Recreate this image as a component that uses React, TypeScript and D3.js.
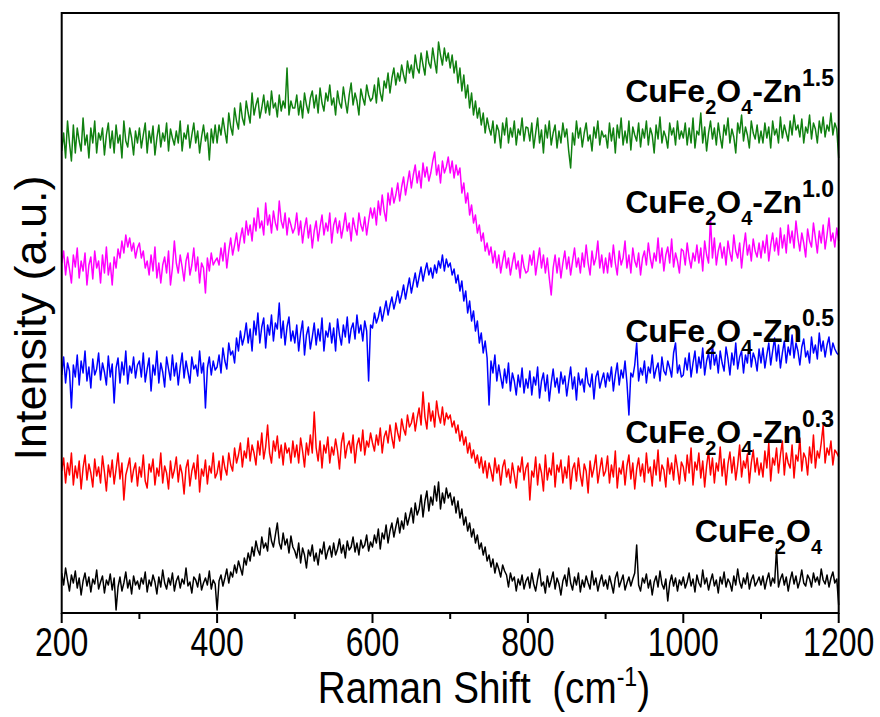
import React from 'react';
import * as d3 from 'd3';

// Each series: ten rows of 40 readings (one every 2.5 cm-1, a row spans 100 cm-1), then the 1200 cm-1 reading
const ROW_START = 200;
const ROW_SPAN = 100;
const POINT_STEP = 2.5;
const xTicks = [200, 400, 600, 800, 1000, 1200];
const xMinorTicks = [300, 500, 700, 900, 1100];

const cuFe2O4 = [
  [40, 28, 45, 33, 22, 38, 30, 42, 25, 35, 18, 32, 40, 27, 36, 21, 34, 29, 43, 24,
   31, 37, 20, 33, 28, 39, 23, 35, 3, 26, 36, 22, 30, 41, 25, 33, 19, 37, 28, 32],
  [24, 35, 29, 41, 21, 33, 27, 38, 31, 19, 36, 26, 43, 30, 24, 35, 28, 40, 22, 32,
   37, 25, 34, 29, 45, 27, 31, 20, 36, 33, 26, 39, 23, 30, 35, 28, 42, 24, 33, 29],
  [3, 32, 38, 27, 35, 44, 30, 41, 36, 48, 40, 52, 45, 38, 55, 48, 60, 52, 66, 57,
   72, 63, 58, 76, 65, 70, 62, 85, 72, 66, 78, 90, 70, 64, 80, 68, 74, 60, 77, 66],
  [62, 55, 70, 50, 65, 58, 45, 63, 57, 68, 52, 60, 48, 64, 59, 71, 54, 62, 67, 56,
   70, 58, 64, 74, 60, 68, 55, 72, 63, 66, 76, 61, 70, 58, 73, 65, 68, 78, 62, 71],
  [66, 78, 70, 84, 64, 80, 74, 88, 70, 82, 90, 76, 86, 95, 80, 92, 84, 100, 88, 96,
   105, 90, 110, 98, 104, 118, 96, 112, 122, 102, 116, 108, 127, 112, 131, 104, 120, 110, 125, 115],
  [120, 108, 116, 100, 112, 95, 104, 88, 96, 82, 90, 76, 84, 70, 78, 64, 70, 58, 66, 52,
   58, 46, 54, 40, 50, 44, 36, 48, 42, 38, 26, 40, 32, 36, 22, 34, 28, 38, 24, 32],
  [36, 25, 40, 29, 22, 34, 44, 27, 31, 20, 37, 26, 33, 41, 24, 35, 29, 18, 32, 38,
   27, 45, 30, 23, 36, 28, 40, 21, 33, 26, 37, 30, 24, 42, 28, 35, 22, 31, 38, 27],
  [33, 24, 37, 29, 20, 35, 41, 26, 32, 38, 23, 30, 36, 27, 34, 40, 68, 28, 22, 35,
   30, 39, 25, 33, 18, 31, 37, 26, 42, 29, 24, 34, 12, 30, 38, 27, 35, 22, 33, 28],
  [36, 25, 31, 40, 27, 34, 21, 38, 30, 26, 43, 29, 35, 23, 32, 39, 27, 33, 20, 36,
   29, 41, 26, 34, 30, 22, 37, 28, 44, 31, 25, 35, 29, 40, 24, 33, 38, 27, 31, 36],
  [28, 37, 24, 33, 40, 27, 35, 30, 64, 26, 34, 39, 28, 36, 22, 33, 41, 29, 37, 25,
   32, 43, 30, 27, 38, 34, 26, 40, 31, 36, 28, 44, 33, 29, 38, 26, 35, 41, 30, 34],
  [8],
];

const cuFe2O4Zn03 = [
  [142, 155, 130, 150, 138, 160, 128, 147, 135, 152, 124, 145, 158, 133, 149, 140, 126, 154, 137, 146,
   130, 157, 141, 122, 148, 136, 153, 129, 144, 160, 134, 150, 113, 138, 146, 155, 131, 143, 150, 127],
  [146, 136, 158, 132, 125, 149, 141, 154, 128, 145, 137, 160, 130, 147, 140, 124, 152, 135, 143, 156,
   131, 148, 139, 119, 145, 153, 127, 142, 150, 134, 158, 121, 144, 137, 153, 129, 147, 140, 160, 135],
  [140, 152, 133, 157, 145, 138, 160, 148, 142, 165, 150, 158, 170, 146, 162, 155, 175, 152, 168, 160,
   148, 172, 158, 180, 154, 166, 188, 160, 150, 172, 162, 177, 155, 168, 148, 170, 160, 165, 150, 172],
  [156, 168, 150, 175, 162, 146, 170, 158, 178, 160, 201, 165, 152, 172, 145, 168, 160, 176, 150, 166,
   158, 174, 162, 144, 170, 180, 155, 167, 172, 160, 178, 150, 168, 175, 162, 183, 158, 172, 166, 180],
  [170, 162, 178, 168, 185, 160, 176, 182, 170, 188, 175, 165, 190, 180, 172, 194, 184, 178, 198, 186,
   190, 200, 182, 195, 205, 188, 221, 196, 184, 210, 192, 202, 186, 212, 198, 190, 206, 188, 200, 194],
  [198, 186, 192, 180, 188, 172, 182, 168, 176, 160, 170, 155, 163, 150, 158, 145, 156, 140, 152, 135,
   150, 142, 132, 155, 140, 148, 128, 146, 153, 136, 144, 130, 150, 138, 125, 147, 141, 156, 133, 145],
  [150, 113, 142, 136, 156, 128, 149, 140, 122, 158, 133, 145, 138, 160, 126, 148, 141, 153, 130, 146,
   135, 157, 124, 144, 150, 132, 155, 138, 127, 149, 142, 120, 152, 136, 145, 158, 130, 143, 155, 137],
  [142, 157, 130, 148, 136, 162, 125, 145, 139, 152, 128, 147, 158, 134, 150, 124, 144, 155, 137, 149,
   131, 160, 140, 146, 127, 153, 138, 163, 132, 148, 143, 126, 155, 139, 150, 133, 158, 145, 129, 151],
  [146, 132, 158, 140, 165, 128, 151, 143, 160, 135, 152, 126, 147, 162, 138, 155, 130, 150, 142, 166,
   137, 154, 128, 149, 161, 140, 156, 133, 148, 168, 136, 152, 145, 159, 130, 150, 163, 141, 155, 138],
  [150, 136, 162, 145, 170, 132, 155, 148, 165, 140, 158, 172, 138, 160, 150, 145, 168, 135, 158, 152,
   175, 142, 160, 155, 138, 166, 150, 178, 145, 162, 155, 170, 188, 150, 165, 158, 172, 148, 163, 160],
  [156],
];

const cuFe2O4Zn05 = [
  [238, 256, 230, 250, 242, 205, 248, 236, 258, 228, 252, 240, 262, 232, 246, 225, 254, 238, 244, 260,
   233, 250, 241, 228, 257, 236, 249, 210, 245, 255, 230, 251, 238, 262, 229, 247, 240, 256, 235, 248],
  [252, 236, 260, 231, 244, 255, 222, 248, 238, 262, 230, 250, 241, 226, 256, 244, 233, 258, 237, 250,
   228, 246, 260, 235, 252, 241, 230, 256, 244, 248, 237, 262, 240, 250, 205, 245, 256, 238, 252, 243],
  [246, 258, 240, 265, 252, 244, 270, 258, 262, 250, 275, 262, 282, 268, 276, 290, 270, 284, 262, 292,
   278, 300, 270, 286, 295, 265, 288, 278, 298, 272, 290, 284, 310, 275, 292, 268, 286, 296, 272, 282],
  [270, 288, 262, 280, 292, 258, 278, 286, 264, 276, 290, 268, 284, 272, 295, 262, 282, 276, 290, 270,
   285, 262, 294, 278, 268, 288, 276, 296, 270, 284, 290, 274, 298, 280, 288, 272, 292, 282, 232, 288],
  [285, 300, 290, 296, 306, 292, 302, 312, 298, 308, 316, 304, 312, 322, 310, 318, 328, 314, 325, 335,
   320, 330, 340, 326, 336, 346, 332, 342, 350, 338, 345, 335, 348, 340, 352, 345, 358, 342, 354, 346],
  [350, 338, 344, 330, 338, 322, 332, 312, 322, 300, 312, 292, 302, 282, 292, 270, 280, 260, 272, 255,
   208, 252, 240, 258, 232, 248, 236, 225, 244, 230, 250, 222, 240, 232, 218, 238, 226, 245, 220, 234],
  [225, 242, 218, 236, 228, 246, 215, 232, 240, 222, 238, 212, 230, 244, 226, 235, 220, 241, 229, 237,
   217, 232, 246, 224, 236, 213, 240, 228, 234, 221, 245, 230, 226, 239, 214, 236, 242, 225, 233, 240],
  [226, 240, 232, 246, 222, 238, 250, 228, 243, 235, 252, 230, 198, 240, 236, 248, 270, 232, 245, 238,
   252, 230, 246, 240, 258, 235, 244, 250, 232, 256, 242, 238, 252, 245, 236, 260, 270, 240, 248, 236],
  [238, 255, 243, 260, 236, 250, 262, 240, 256, 245, 265, 238, 252, 260, 244, 268, 248, 258, 240, 262,
   250, 242, 266, 254, 238, 260, 248, 270, 244, 256, 262, 240, 258, 250, 272, 246, 260, 254, 242, 264],
  [250, 265, 245, 258, 270, 248, 262, 275, 252, 268, 245, 260, 272, 250, 266, 258, 278, 255, 270, 262,
   248, 266, 274, 256, 262, 250, 276, 260, 268, 254, 280, 262, 272, 256, 268, 276, 258, 270, 264, 260],
  [258],
];

const cuFe2O4Zn10 = [
  [350, 362, 338, 356, 344, 330, 358, 346, 365, 335, 352, 342, 360, 328, 348, 356, 334, 362, 345, 352,
   330, 358, 340, 366, 338, 350, 328, 356, 345, 364, 355, 372, 360, 378, 366, 375, 362, 370, 355, 365],
  [370, 355, 362, 345, 352, 338, 358, 342, 366, 335, 350, 330, 348, 356, 340, 362, 328, 345, 372, 350,
   340, 358, 346, 332, 352, 360, 338, 348, 365, 342, 356, 330, 350, 345, 320, 355, 342, 360, 348, 352],
  [355, 348, 365, 352, 370, 345, 362, 375, 358, 368, 380, 362, 375, 385, 370, 392, 378, 388, 372, 395,
   382, 405, 385, 392, 378, 410, 388, 398, 380, 402, 390, 383, 412, 392, 385, 400, 378, 395, 388, 380],
  [385, 400, 378, 392, 370, 385, 395, 375, 388, 365, 382, 392, 372, 386, 398, 378, 390, 382, 400, 370,
   388, 395, 380, 392, 375, 386, 400, 382, 390, 372, 395, 385, 378, 400, 388, 382, 396, 378, 392, 405],
  [395, 405, 388, 412, 398, 418, 402, 392, 420, 408, 425, 410, 418, 430, 412, 426, 436, 418, 430, 442,
   425, 438, 448, 430, 442, 425, 450, 436, 446, 432, 440, 452, 461, 438, 448, 430, 452, 440, 446, 456],
  [440, 452, 435, 448, 438, 445, 420, 430, 410, 420, 398, 408, 390, 398, 380, 388, 372, 380, 362, 370,
   358, 366, 350, 362, 345, 358, 340, 352, 362, 345, 355, 338, 350, 360, 344, 352, 335, 358, 346, 340],
  [342, 358, 348, 362, 338, 352, 365, 345, 358, 340, 355, 335, 318, 345, 358, 340, 355, 335, 350, 362,
   344, 356, 338, 352, 365, 346, 355, 340, 360, 346, 368, 350, 338, 362, 348, 355, 372, 345, 358, 340],
  [355, 340, 360, 346, 368, 350, 338, 362, 348, 355, 372, 345, 358, 340, 365, 352, 346, 360, 338, 355,
   362, 348, 370, 355, 345, 360, 352, 375, 350, 365, 342, 358, 366, 350, 374, 346, 360, 352, 340, 364],
  [362, 348, 370, 355, 345, 360, 352, 368, 350, 365, 342, 372, 358, 350, 395, 355, 375, 348, 362, 370,
   355, 366, 348, 372, 360, 352, 378, 362, 355, 370, 345, 365, 380, 358, 368, 352, 374, 362, 356, 370],
  [355, 372, 360, 378, 352, 368, 380, 362, 375, 358, 385, 365, 378, 360, 388, 370, 382, 365, 392, 375,
   362, 380, 370, 356, 384, 372, 366, 390, 375, 360, 382, 370, 388, 364, 378, 395, 372, 380, 366, 385],
  [372],
];

const cuFe2O4Zn15 = [
  [462, 480, 455, 492, 470, 452, 488, 460, 485, 472, 462, 495, 468, 478, 455, 485, 470, 492, 460, 480,
   473, 485, 458, 478, 490, 465, 482, 460, 488, 470, 478, 455, 492, 472, 466, 485, 475, 458, 482, 470],
  [485, 465, 478, 490, 460, 482, 470, 487, 458, 475, 488, 466, 480, 472, 490, 462, 484, 475, 468, 482,
   470, 492, 462, 480, 474, 488, 465, 478, 490, 470, 482, 460, 476, 488, 472, 480, 453, 484, 470, 488],
  [470, 488, 478, 495, 482, 470, 500, 486, 478, 505, 492, 484, 510, 495, 488, 512, 500, 490, 520, 498,
   508, 515, 495, 505, 518, 500, 512, 498, 522, 505, 510, 496, 518, 502, 512, 505, 545, 498, 512, 505],
  [505, 518, 498, 512, 495, 520, 508, 500, 515, 522, 505, 518, 500, 525, 510, 502, 520, 512, 528, 508,
   515, 498, 522, 510, 505, 526, 512, 500, 518, 530, 508, 520, 512, 498, 524, 515, 508, 528, 518, 512],
  [515, 528, 510, 535, 520, 512, 532, 525, 540, 520, 535, 545, 528, 540, 532, 548, 538, 530, 552, 540,
   548, 535, 558, 545, 540, 560, 548, 538, 562, 550, 545, 565, 552, 540, 571, 558, 548, 565, 552, 560],
  [545, 558, 540, 552, 530, 545, 522, 538, 515, 528, 505, 520, 498, 512, 495, 505, 488, 500, 480, 495,
   485, 478, 492, 470, 488, 482, 465, 490, 478, 495, 470, 485, 476, 492, 468, 484, 478, 495, 472, 486],
  [485, 472, 490, 465, 480, 495, 470, 483, 460, 488, 475, 492, 468, 480, 488, 465, 482, 470, 490, 476,
   484, 462, 445, 480, 468, 492, 475, 485, 466, 480, 490, 472, 478, 462, 486, 475, 492, 468, 482, 476],
  [478, 465, 490, 472, 485, 460, 488, 475, 495, 468, 482, 470, 492, 463, 486, 478, 472, 490, 466, 484,
   475, 492, 468, 485, 478, 460, 488, 474, 496, 470, 482, 476, 465, 490, 478, 485, 468, 492, 474, 482],
  [475, 490, 468, 485, 470, 495, 465, 482, 478, 500, 470, 486, 462, 480, 492, 474, 485, 468, 490, 476,
   465, 488, 478, 495, 470, 484, 476, 460, 490, 480, 498, 472, 486, 478, 465, 492, 480, 474, 488, 470],
  [482, 470, 490, 475, 486, 465, 492, 478, 484, 470, 496, 475, 488, 480, 472, 492, 478, 498, 483, 488,
   476, 494, 470, 486, 480, 498, 474, 490, 484, 470, 492, 480, 496, 476, 488, 482, 500, 478, 490, 484],
  [455],
];

const seriesRows = [cuFe2O4, cuFe2O4Zn03, cuFe2O4Zn05, cuFe2O4Zn10, cuFe2O4Zn15];
const seriesColors = ['#000000', '#ff0000', '#0000ff', '#ff00ff', '#108010'];
const seriesZn = [null, '0.3', '0.5', '1.0', '1.5'];
const labelBaselines = [542, 443, 342, 213, 102];

const W = 880;
const H = 717;
const M = { left: 61.7, right: 838.7, top: 13, bottom: 613 };

function toPoints(rows: number[][]): [number, number][] {
  const pts: [number, number][] = [];
  rows.forEach((row, r) => {
    row.forEach((v, j) => {
      pts.push([ROW_START + r * ROW_SPAN + j * POINT_STEP, v]);
    });
  });
  return pts;
}

export default function App() {
  const x = d3.scaleLinear().domain([200, 1200]).range([M.left, M.right]);
  const y = d3.scaleLinear().domain([0, 600]).range([M.bottom, M.top]);
  const line = d3
    .line<[number, number]>()
    .x((d) => x(d[0]))
    .y((d) => y(d[1]));

  const sans = "'Liberation Sans', Arial, sans-serif";

  return (
    <svg
      width={W}
      height={H}
      style={{ position: 'absolute', left: 0, top: 0, background: '#fff' }}
    >
      <rect x={0} y={0} width={W} height={H} fill="#fff" />
      {seriesRows.map((rows, k) => (
        <path
          key={k}
          d={line(toPoints(rows)) || ''}
          fill="none"
          stroke={seriesColors[k]}
          strokeWidth={1.5}
          strokeLinejoin="round"
        />
      ))}
      <rect
        x={M.left}
        y={M.top}
        width={M.right - M.left}
        height={M.bottom - M.top}
        fill="none"
        stroke="#000"
        strokeWidth={2}
      />
      {xTicks.map((t) => (
        <g key={t}>
          <line x1={x(t)} x2={x(t)} y1={M.bottom} y2={M.bottom + 10} stroke="#000" strokeWidth={2} />
          <text
            transform={`translate(${x(t)},656) scale(0.8,1)`}
            textAnchor="middle"
            fontFamily={sans}
            fontSize={40}
            fill="#000"
          >
            {t}
          </text>
        </g>
      ))}
      {xMinorTicks.map((t) => (
        <line key={t} x1={x(t)} x2={x(t)} y1={M.bottom} y2={M.bottom + 6} stroke="#000" strokeWidth={2} />
      ))}
      <text
        transform="translate(484,703) scale(0.86,1)"
        textAnchor="middle"
        fontFamily={sans}
        fontSize={45}
        fill="#000"
      >
        Raman Shift{'\u00a0\u00a0'}(cm
        <tspan dy={-17} fontSize={27}>-1</tspan>
        <tspan dy={17}>)</tspan>
      </text>
      <text
        transform="translate(46,318) rotate(-90)"
        textAnchor="middle"
        fontFamily={sans}
        fontSize={45}
        fill="#000"
      >
        Intensity (a.u.)
      </text>
      {seriesZn.map((zn, k) => (
        <text
          key={k}
          x={zn ? 834 : 822}
          y={labelBaselines[k]}
          textAnchor="end"
          fontFamily={sans}
          fontWeight="bold"
          fontSize={32}
          fill="#000"
        >
          CuFe
          <tspan dy={12} fontSize={20}>2</tspan>
          <tspan dy={-12}>O</tspan>
          <tspan dy={12} fontSize={20}>4</tspan>
          {zn ? <tspan dy={-12}>-Zn</tspan> : null}
          {zn ? (
            <tspan dy={-16} fontSize={23}>
              {zn}
            </tspan>
          ) : null}
        </text>
      ))}
    </svg>
  );
}
